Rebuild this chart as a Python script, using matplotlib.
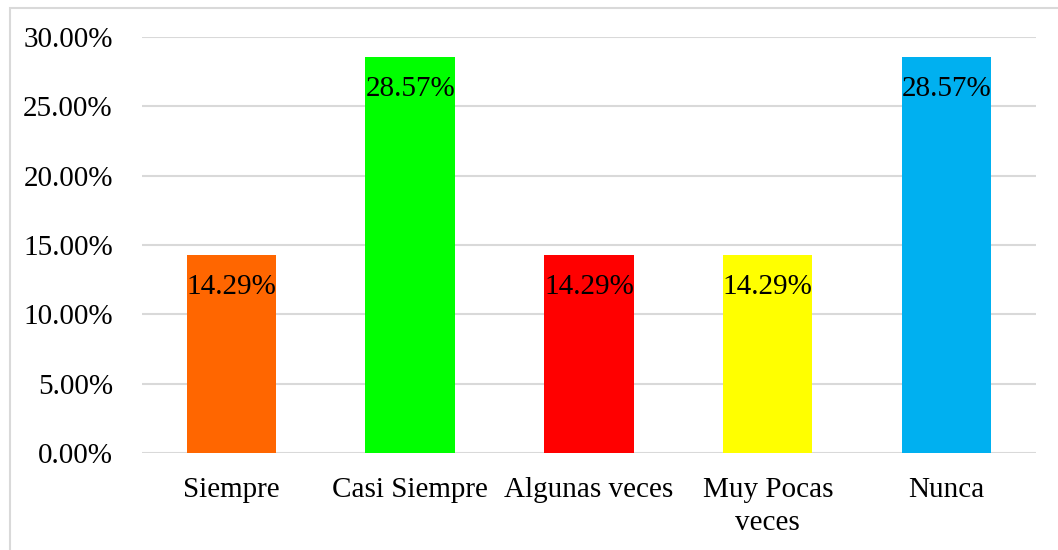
import matplotlib.pyplot as plt
import matplotlib.patches as mpatches
from matplotlib.ticker import PercentFormatter

categorias = ["Siempre", "Casi Siempre", "Algunas veces", "Muy Pocas\nveces", "Nunca"]
valores = [14.29, 28.57, 14.29, 14.29, 28.57]
colores = ["#FF6600", "#00FF00", "#FF0000", "#FFFF00", "#00B0F0"]

plt.rcParams["font.family"] = ["Liberation Serif", "DejaVu Serif"]

fig = plt.figure(figsize=(10.58, 5.5), dpi=100)
ax = fig.add_axes([0.1342, 0.1764, 0.8450, 0.7563])

x = range(len(categorias))
barras = ax.bar(x, valores, width=0.5, color=colores, zorder=3)

ax.set_xlim(-0.5, len(categorias) - 0.5)
ax.set_ylim(0, 30)
ax.set_yticks([0, 5, 10, 15, 20, 25, 30])
ax.yaxis.set_major_formatter(PercentFormatter(decimals=2))
ax.set_xticks(list(x))
ax.set_xticklabels(categorias, fontsize=21, linespacing=1.35)
ax.tick_params(axis="y", labelsize=21, length=0, pad=21)
ax.tick_params(axis="x", length=0, pad=17)
ax.grid(axis="y", color="#D9D9D9", linewidth=1.5, zorder=0)
for s in ax.spines.values():
    s.set_visible(False)

for b, v in zip(barras, valores):
    ax.annotate(f"{v:.2f}%", (b.get_x() + b.get_width() / 2, v),
                xytext=(0, -32), textcoords="offset pixels",
                ha="center", va="center", fontsize=21, zorder=4)

# borde del área del gráfico
fig.patches.append(mpatches.Rectangle((9.5 / 1058, -0.1), 1.2, 1.1 - 7.5 / 550,
                                      transform=fig.transFigure, fill=False,
                                      edgecolor="#D9D9D9", linewidth=1.5))

fig.savefig("out.png", dpi=100)
